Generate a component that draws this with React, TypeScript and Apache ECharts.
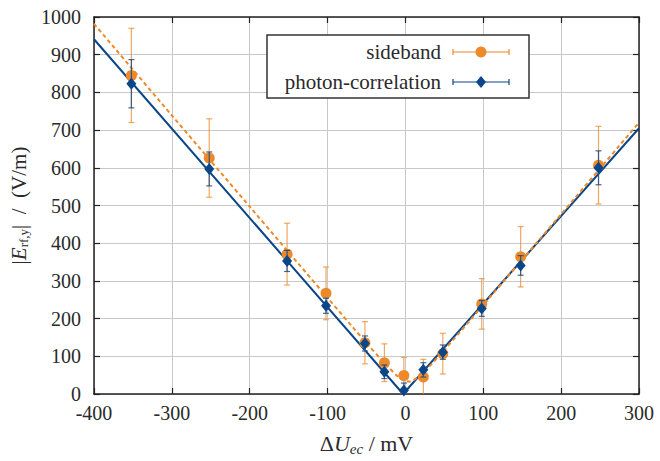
import React, { useEffect, useRef } from "react";
import * as echarts from "echarts";

// Measured data: x = ΔU_ec (mV)
const pointX = [-352, -252, -152, -102, -52, -27, -2, 23, 48, 98, 148, 248];
const sidebandY = [845, 626, 371, 267, 136, 83, 49, 45, 107, 239, 364, 607];
const sidebandErr = [125, 104, 82, 70, 56, 50, 48, 47, 54, 67, 80, 103];
const photonY = [823, 597, 353, 234, 134, 59, 9, 64, 111, 227, 341, 600];
const photonErr = [64, 45, 28, 20, 20, 18, 20, 19, 19, 21, 26, 45];

// Fit curves
const sidebandFitX = [-400, -300, -200, -100, -50, -25, -10, 0, 5, 10, 25, 50, 100, 200, 300];
const sidebandFitY = [982, 739, 497, 255, 135, 78, 47, 34, 33, 36, 61, 117, 236, 477, 720];
const photonFitX = [-400, -3, 300];
const photonFitY = [941, 0, 705];

const xTicks = { min: -400, max: 300, interval: 100 };
const yTicks = { min: 0, max: 1000, interval: 100 };

const ORANGE = "#ec8a2b";
const BLUE = "#0b4689";
const FONT = "Liberation Serif";
const TXT = "#2a2a2a";

export default function App() {
  const ref = useRef<HTMLDivElement>(null);
  useEffect(() => {
    if (!ref.current) return;
    const chart = echarts.init(ref.current, null, { renderer: "svg" });

    const errRender = (color: string, opacity: number) => (params: any, api: any) => {
      const x = api.value(0);
      const y = api.value(1);
      const e = api.value(2);
      const top = api.coord([x, y + e]);
      const bot = api.coord([x, y - e]);
      const cap = 3;
      const style = { stroke: color, lineWidth: 1.2, opacity };
      return {
        type: "group",
        children: [
          { type: "line", shape: { x1: top[0], y1: top[1], x2: bot[0], y2: bot[1] }, style },
          { type: "line", shape: { x1: top[0] - cap, y1: top[1], x2: top[0] + cap, y2: top[1] }, style },
          { type: "line", shape: { x1: bot[0] - cap, y1: bot[1], x2: bot[0] + cap, y2: bot[1] }, style },
        ],
      };
    };

    const axisLine = { show: true, onZero: false, lineStyle: { color: "#222", width: 1.5 } };
    const axisTick = { show: true, inside: true, length: 6, lineStyle: { color: "#222", width: 1.2 } };
    const splitLine = { show: true, lineStyle: { color: "#c9c9c9", width: 1 } };
    const labelStyle = { fontFamily: FONT, fontSize: 20, color: TXT, formatter: (v: number) => String(v) };

    const lx = 267, ly = 35, lw = 262, lh = 63;
    const icon = (y: number, color: string, marker: any) => [
      { type: "line", shape: { x1: 453, y1: y, x2: 509, y2: y }, style: { stroke: color, lineWidth: 1.2 }, z: 101 },
      { type: "line", shape: { x1: 453, y1: y - 3, x2: 453, y2: y + 3 }, style: { stroke: color, lineWidth: 1.2 }, z: 101 },
      { type: "line", shape: { x1: 509, y1: y - 3, x2: 509, y2: y + 3 }, style: { stroke: color, lineWidth: 1.2 }, z: 101 },
      { ...marker, z: 102 },
    ];

    chart.setOption({
      animation: false,
      backgroundColor: "#fff",
      textStyle: { fontFamily: FONT },
      grid: { left: 92, right: 21, top: 17, bottom: 62 },
      xAxis: [
        {
          type: "value",
          ...xTicks,
          position: "bottom",
          axisLine,
          axisTick,
          splitLine,
          axisLabel: { ...labelStyle, margin: 9 },
          name: "Δ{i|U}{s|ec} / mV",
          nameLocation: "middle",
          nameGap: 37,
          nameTextStyle: {
            fontFamily: FONT,
            fontSize: 22,
            color: TXT,
            rich: {
              i: { fontFamily: FONT, fontSize: 22, fontStyle: "italic", color: TXT },
              s: { fontFamily: FONT, fontSize: 15, fontStyle: "italic", color: TXT, padding: [10, 0, 0, 0] },
            },
          },
        },
        {
          type: "value",
          ...xTicks,
          position: "top",
          axisLine,
          axisTick,
          splitLine: { show: false },
          axisLabel: { show: false },
        },
      ],
      yAxis: [
        {
          type: "value",
          ...yTicks,
          position: "left",
          axisLine,
          axisTick,
          splitLine,
          axisLabel: { ...labelStyle, margin: 13 },
          name: "|{i|E}{s|rf,y}|  /  (V/m)",
          nameLocation: "middle",
          nameRotate: 90,
          nameGap: 64,
          nameTextStyle: {
            fontFamily: FONT,
            fontSize: 21,
            color: TXT,
            rich: {
              i: { fontFamily: FONT, fontSize: 21, fontStyle: "italic", color: TXT },
              s: { fontFamily: FONT, fontSize: 13, color: TXT, padding: [10, 0, 0, 0] },
            },
          },
        },
        {
          type: "value",
          ...yTicks,
          position: "right",
          axisLine,
          axisTick,
          splitLine: { show: false },
          axisLabel: { show: false },
        },
      ],
      series: [
        {
          name: "photon-correlation fit",
          type: "line",
          data: photonFitX.map((x, i) => [x, photonFitY[i]]),
          showSymbol: false,
          lineStyle: { color: BLUE, width: 2 },
          z: 2,
        },
        {
          name: "sideband fit",
          type: "line",
          smooth: 0.3,
          data: sidebandFitX.map((x, i) => [x, sidebandFitY[i]]),
          showSymbol: false,
          lineStyle: { color: ORANGE, width: 2, type: [4, 3] },
          z: 3,
        },
        {
          name: "sideband err",
          type: "custom",
          renderItem: errRender(ORANGE, 0.75),
          data: pointX.map((x, i) => [x, sidebandY[i], sidebandErr[i]]),
          clip: true,
          z: 4,
        },
        {
          name: "sideband",
          type: "scatter",
          data: pointX.map((x, i) => [x, sidebandY[i]]),
          symbol: "circle",
          symbolSize: 11,
          itemStyle: { color: ORANGE, opacity: 1 },
          z: 5,
        },
        {
          name: "photon err",
          type: "custom",
          renderItem: errRender(BLUE, 0.8),
          data: pointX.map((x, i) => [x, photonY[i], photonErr[i]]),
          clip: true,
          z: 6,
        },
        {
          name: "photon-correlation",
          type: "scatter",
          data: pointX.map((x, i) => [x, photonY[i]]),
          symbol: "diamond",
          symbolSize: [10, 12],
          itemStyle: { color: BLUE, opacity: 1 },
          z: 7,
        },
      ],
      graphic: [
        {
          type: "rect",
          shape: { x: lx, y: ly, width: lw, height: lh },
          style: { fill: "#fff", stroke: "#333", lineWidth: 1.5 },
          z: 100,
        },
        {
          type: "text",
          x: 441,
          y: 52,
          style: { text: "sideband", fontFamily: FONT, fontSize: 21, fill: TXT, align: "right", verticalAlign: "middle" },
          z: 101,
        },
        {
          type: "text",
          x: 441,
          y: 82,
          style: { text: "photon-correlation", fontFamily: FONT, fontSize: 21, fill: TXT, align: "right", verticalAlign: "middle" },
          z: 101,
        },
        ...icon(52, ORANGE, { type: "circle", shape: { cx: 481, cy: 52, r: 5.5 }, style: { fill: ORANGE } }),
        ...icon(82, BLUE, {
          type: "polygon",
          shape: { points: [[481, 76], [486, 82], [481, 88], [476, 82]] },
          style: { fill: BLUE },
        }),
      ],
    });
    return () => chart.dispose();
  }, []);
  return (
    <div
      ref={ref}
      style={{ position: "absolute", left: 0, top: 0, width: 660, height: 461 }}
    />
  );
}
